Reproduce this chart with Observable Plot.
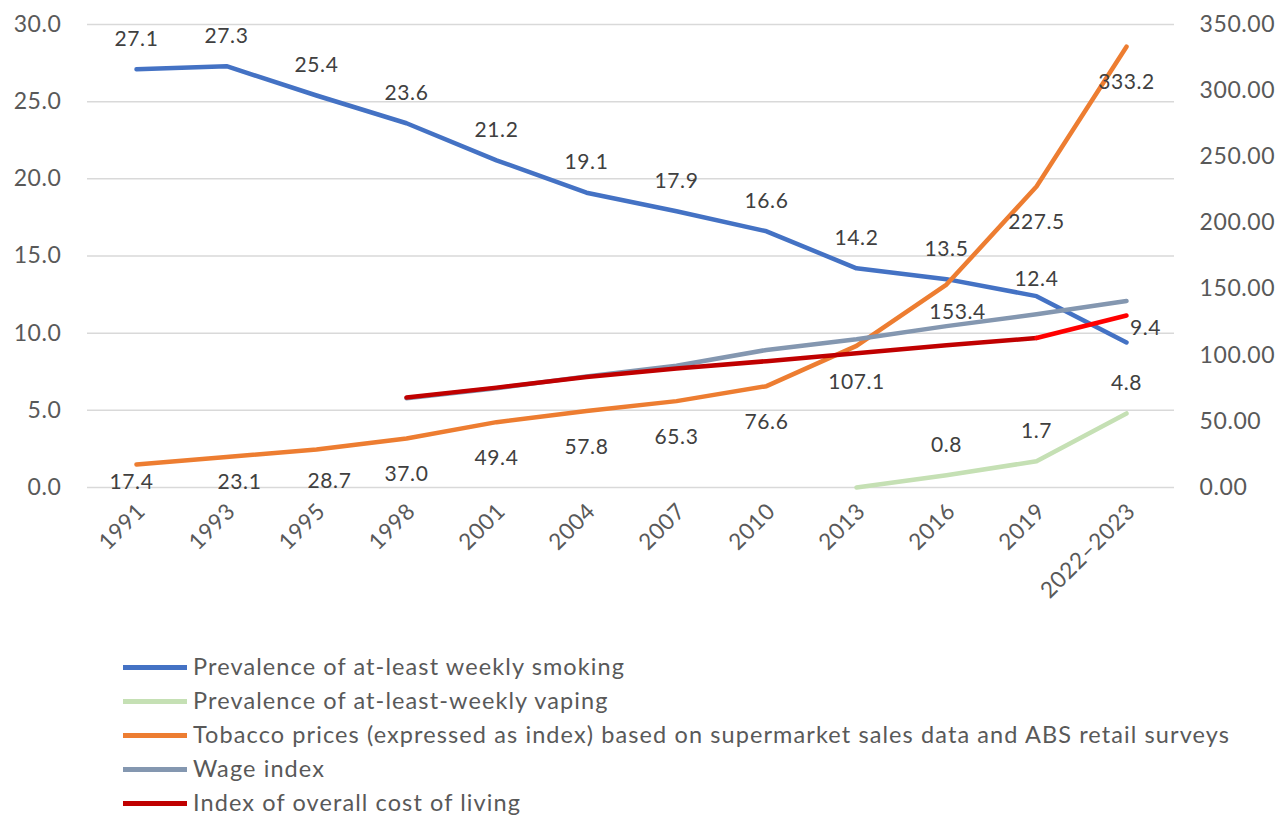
<!DOCTYPE html>
<html>
<head>
<meta charset="utf-8">
<script src="https://cdn.jsdelivr.net/npm/d3@7"></script>
<script src="https://cdn.jsdelivr.net/npm/@observablehq/plot@0.6"></script>
<style>
  html, body { margin: 0; padding: 0; background: #fff; overflow: hidden; }
  body { width: 1281px; height: 817px; font-family: "Lato", sans-serif; }
  #legend { position: absolute; left: 123px; top: 650px; }
  .row { display: flex; align-items: center; height: 34px; }
  .sw { width: 64px; height: 5px; margin-right: 6px; }
  .lt { font-size: 23.5px; line-height: 1; letter-spacing: 1.1px; color: #595959; white-space: nowrap; }
  svg text { letter-spacing: 0.6px; }
</style>
</head>
<body>
<div id="chart"></div>
<div id="legend"></div>
<script>
const categories = ["1991","1993","1995","1998","2001","2004","2007","2010","2013","2016","2019","2022–2023"];
const smoking = [27.1,27.3,25.4,23.6,21.2,19.1,17.9,16.6,14.2,13.5,12.4,9.4];
const vaping = [null,null,null,null,null,null,null,null,0,0.8,1.7,4.8];
const tobacco = [17.4,23.1,28.7,37.0,49.4,57.8,65.3,76.6,107.1,153.4,227.5,333.2];
const wage = [null,null,null,67.5,75,84,92,104,112,122,131,141];
const costOfLiving = [null,null,null,68,75.5,83.5,90,95.5,101.5,107.5,113,130];
const leftTicks = [0,5,10,15,20,25,30];
const rightTicks = [0,50,100,150,200,250,300,350];

const seriesNames = [
  "Prevalence of at-least weekly smoking",
  "Prevalence of at-least-weekly vaping",
  "Tobacco prices (expressed as index) based on supermarket sales data and ABS retail surveys",
  "Wage index",
  "Index of overall cost of living"
];
const colors = ["#4472c4", "#c5e0b4", "#ed7d31", "#8497b0", "#c00000"];

const K = 30 / 350; // right axis -> left axis units
const L = v => v;
const R = v => v * K;

function rows(values, toY) {
  return values.map((v, i) => ({i, cat: categories[i], v, y: v == null ? null : toY(v)})).filter(d => d.v != null);
}

const W = 1281, H = 640;

// label nudges (pixels) for points Excel moved to avoid collisions / plot edges
const smokeNudge = {10: {dx: 0, dy: -17}, 11: {dx: 19, dy: -14}};
const tobNudge = {0: {dx: -5, dy: 18}, 1: {dx: 13, dy: 25}, 2: {dx: 13, dy: 32}, 9: {dx: 11, dy: 28}};

function labels(data, baseDy, nudges) {
  return data.map(d => {
    const n = nudges[d.i] || {dx: 0, dy: baseDy};
    return Plot.text([d], {x: "cat", y: "y", text: d => d.v.toFixed(1), dx: n.dx, dy: n.dy,
      fill: "#404040", fontSize: 21});
  });
}

const smokeD = rows(smoking, L);
const vapeD = rows(vaping, L);
const tobD = rows(tobacco, R);
const wageD = rows(wage, R);
const colD = rows(costOfLiving, R);

const lineOpts = {x: "cat", y: "y", strokeWidth: 4.5, curve: "linear", strokeLinejoin: "round"};

const chart = Plot.plot({
  width: W, height: H,
  marginLeft: 87, marginRight: 107, marginTop: 24, marginBottom: H - 487,
  style: {fontFamily: "Lato, sans-serif", color: "#595959", background: "#fff"},
  x: {type: "point", domain: categories, padding: 0.5},
  y: {domain: [0, 30]},
  marks: [
    Plot.ruleY(leftTicks, {stroke: "#d9d9d9", strokeWidth: 1.5}),
    Plot.axisY(leftTicks, {anchor: "left", tickSize: 0, tickPadding: 26, tickFormat: d => d.toFixed(1), fontSize: 23, label: null}),
    Plot.axisY(rightTicks.map(R), {anchor: "right", tickSize: 0, tickPadding: 25, textAnchor: "start", tickFormat: d => (d / K).toFixed(2), fontSize: 23, label: null}),
    Plot.axisX({tickRotate: -45, tickSize: 0, tickPadding: 20, dx: 5, fontSize: 22.5, label: null}),
    Plot.line(smokeD, {...lineOpts, stroke: colors[0]}),
    Plot.line(vapeD, {...lineOpts, stroke: colors[1]}),
    Plot.line(tobD, {...lineOpts, stroke: colors[2]}),
    Plot.line(wageD, {...lineOpts, stroke: colors[3]}),
    Plot.line(colD.filter(d => d.i <= 10), {...lineOpts, stroke: colors[4]}),
    Plot.line(colD.filter(d => d.i >= 10), {...lineOpts, stroke: "#ff0000"}),
    ...labels(smokeD, -30, smokeNudge),
    ...labels(vapeD.filter(d => d.v > 0), -30, {}),
    ...labels(tobD, 36, tobNudge)
  ]
});
document.getElementById("chart").appendChild(chart);

const legend = document.getElementById("legend");
seriesNames.forEach((name, k) => {
  const row = document.createElement("div");
  row.className = "row";
  const sw = document.createElement("div");
  sw.className = "sw";
  sw.style.background = colors[k];
  const t = document.createElement("div");
  t.className = "lt";
  t.textContent = name;
  row.appendChild(sw); row.appendChild(t);
  legend.appendChild(row);
});
</script>
</body>
</html>
